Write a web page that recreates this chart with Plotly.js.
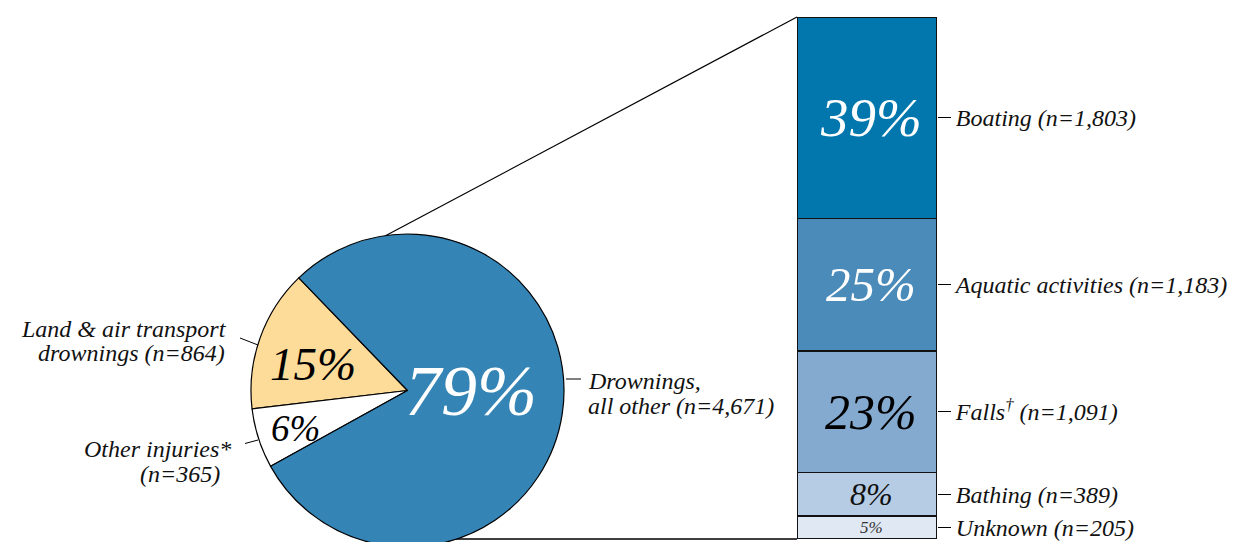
<!DOCTYPE html>
<html><head><meta charset="utf-8">
<script src="https://cdn.plot.ly/plotly-3.0.1.min.js"></script>
<style>html,body{margin:0;padding:0;overflow:hidden;background:#fff;width:1238px;height:542px}</style>
</head><body><div id="chart"></div>
<script>
// ---- data ----
const pieLabels = ["Land & air transport drownings", "Other injuries", "Drownings, all other"];
const pieValues = [864, 365, 4671];
const pieColors = ["#FDDB99", "#FFFFFF", "#3584B6"];
const piePctText = ["15%", "6%", "79%"];
const pieSideLines = [
  ["Land &amp; air transport", "drownings (n=864)"],
  ["Other injuries*", "(n=365)"],
  ["Drownings,", "all other (n=4,671)"]
];

// stacked bar, bottom to top
const barCats = ["Unknown", "Bathing", "Falls", "Aquatic activities", "Boating"];
const barValues = [205, 389, 1091, 1183, 1803];
const barPctText = ["5%", "8%", "23%", "25%", "39%"];
const barTickText = ["Unknown (n=205)", "Bathing (n=389)", "Falls<sup>†</sup> (n=1,091)",
                     "Aquatic activities (n=1,183)", "Boating (n=1,803)"];
const barColors = ["#E0E8F3", "#B5CCE4", "#84AAD0", "#4A8BBA", "#0277AD"];

// ---- layout geometry ----
const W = 1238, H = 552;
const FONT = "Liberation Serif";
const pieDom = {x: [251 / W, 564 / W], y: [(H - 547.5) / H, (H - 233.5) / H]};
const barXDom = [797 / W, 937 / W];
const barYDom = [(H - 539) / H, (H - 17) / H];

const total = barValues.reduce((a, b) => a + b, 0);
const pieTot = pieValues.reduce((a, b) => a + b, 0);
const firstSpan = pieValues[0] / pieTot * 360;

const traces = [{
  type: "pie",
  labels: pieLabels,
  values: pieValues,
  sort: false,
  direction: "counterclockwise",
  rotation: -44 - firstSpan,
  marker: {colors: pieColors, line: {color: "#000", width: 1.2}},
  textinfo: "none",
  hoverinfo: "label+value",
  domain: pieDom,
  showlegend: false
}];

barCats.forEach((c, i) => {
  traces.push({
    type: "bar",
    x: [0],
    y: [barValues[i]],
    width: [1],
    name: c,
    marker: {color: barColors[i], line: {color: "#111", width: 1.7}},
    xaxis: "x", yaxis: "y",
    showlegend: false,
    hoverinfo: "name+y"
  });
});

const mids = [];
let cum = 0;
barValues.forEach(v => { mids.push(cum + v / 2); cum += v; });

const annotations = [];
const barPctSize = [17, 32, 50, 49, 55];
const barPctColor = ["#333", "#111", "#000", "#fff", "#fff"];
mids.forEach((m, i) => {
  annotations.push({
    xref: "x", yref: "y", x: 0.03, y: m, text: barPctText[i], showarrow: false,
    font: {family: FONT, size: barPctSize[i], color: barPctColor[i], style: "italic"},
    xanchor: "center", yanchor: "middle"
  });
});

const px = v => v / W, py = v => (H - v) / H;

const piePctPos = [[313, 364], [295, 428], [471, 391]];
const piePctSize = [47, 37, 72];
const piePctColor = ["#000", "#000", "#fff"];
piePctText.forEach((t, i) => {
  annotations.push({
    xref: "paper", yref: "paper", x: px(piePctPos[i][0]), y: py(piePctPos[i][1]), text: t,
    showarrow: false, xanchor: "center", yanchor: "middle",
    font: {family: FONT, size: piePctSize[i], color: piePctColor[i], style: "italic"}
  });
});

const sideLabelPos = [
  {xs: [229, 227], y: [329, 353], anchor: "right"},
  {xs: [233, 222], y: [449, 474], anchor: "right"},
  {xs: [586, 586], y: [381, 406], anchor: "left"}
];
sideLabelPos.forEach((p, i) => {
  pieSideLines[i].forEach((line, j) => {
    annotations.push({
      xref: "paper", yref: "paper", x: px(p.xs[j]), y: py(p.y[j]), text: line,
      showarrow: false, xanchor: p.anchor, yanchor: "middle",
      font: {family: FONT, size: 24, color: "#111", style: "italic"}
    });
  });
});

const shapes = [
  {type: "line", xref: "paper", yref: "paper", x0: px(385), y0: py(236), x1: barXDom[0], y1: barYDom[1],
   line: {color: "#000", width: 1.2}, layer: "below"},
  {type: "line", xref: "paper", yref: "paper", x0: px(420), y0: barYDom[0], x1: barXDom[0], y1: barYDom[0],
   line: {color: "#000", width: 1.4}, layer: "below"},
  {type: "line", xref: "paper", yref: "paper", x0: px(240), y0: py(338), x1: px(258), y1: py(345), line: {color: "#000", width: 1}},
  {type: "line", xref: "paper", yref: "paper", x0: px(245), y0: py(443.5), x1: px(258), y1: py(440), line: {color: "#000", width: 1}},
  {type: "line", xref: "paper", yref: "paper", x0: px(566), y0: py(379), x1: px(581), y1: py(379), line: {color: "#000", width: 1}}
];

const layout = {
  width: W, height: H,
  margin: {l: 0, r: 0, t: 0, b: 0, pad: 0},
  paper_bgcolor: "#fff", plot_bgcolor: "rgba(0,0,0,0)",
  barmode: "stack", bargap: 0,
  showlegend: false,
  font: {family: FONT},
  xaxis: {domain: barXDom, range: [-0.5, 0.5], visible: false, fixedrange: true},
  yaxis: {domain: barYDom, range: [0, total], side: "right", anchor: "x",
          showgrid: false, zeroline: false, showline: false,
          tickmode: "array", tickvals: mids, ticktext: barTickText,
          ticks: "outside", ticklen: 13, tickwidth: 1.1, tickcolor: "#000",
          tickfont: {family: FONT, size: 24, color: "#111", style: "italic"},
          fixedrange: true},
  annotations: annotations,
  shapes: shapes
};

Plotly.newPlot("chart", traces, layout, {displayModeBar: false, staticPlot: true});
</script>
</body></html>
